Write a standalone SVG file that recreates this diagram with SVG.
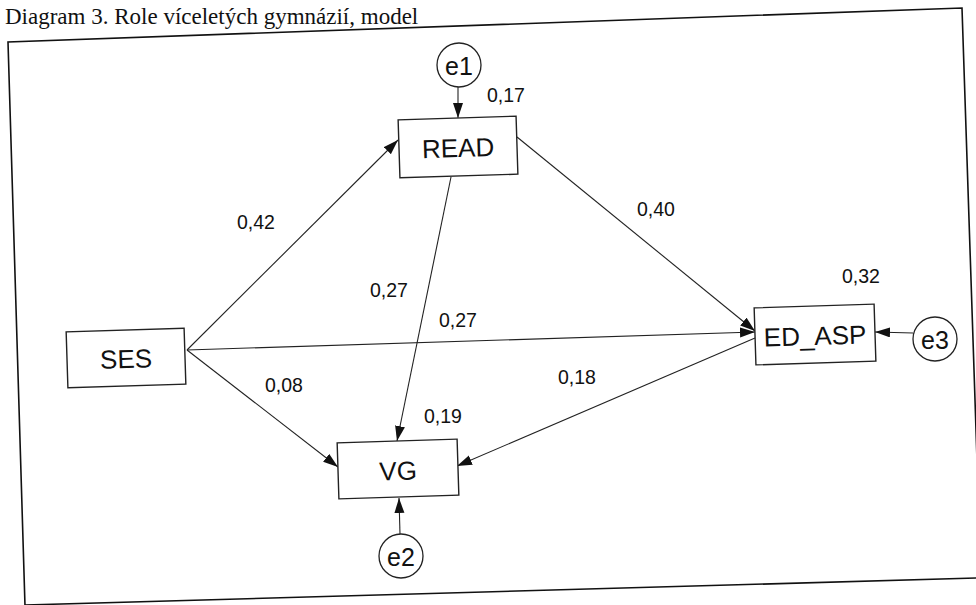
<svg xmlns="http://www.w3.org/2000/svg" width="976" height="605" viewBox="0 0 976 605">
<style>
.box{fill:#fff;stroke:#222;stroke-width:1.4}
.circ{fill:#fff;stroke:#222;stroke-width:1.3}
.lbl{font-family:"Liberation Sans",Arial,sans-serif;font-size:26px;fill:#111;text-anchor:middle;dominant-baseline:central}
.elbl{font-family:"Liberation Sans",Arial,sans-serif;font-size:25px;fill:#111;text-anchor:middle;dominant-baseline:central}
.num{font-family:"Liberation Sans",Arial,sans-serif;font-size:19.5px;fill:#111}
.edge{stroke:#222;stroke-width:1.1;fill:none;marker-end:url(#ah)}
.frame{stroke:#111;stroke-width:1.6;fill:none}
</style>
<defs>
<marker id="ah" markerUnits="userSpaceOnUse" markerWidth="16" markerHeight="12" refX="15" refY="5" orient="auto">
<path d="M0,0 L15,5 L0,10 z" fill="#111"/>
</marker>
</defs>
<rect width="976" height="605" fill="#fff"/>
<text x="5" y="24" style="font-family:'Liberation Serif','Times New Roman',serif;font-size:23px;fill:#111">Diagram 3. Role víceletých gymnázií, model</text>
<g id="frame">
<path class="frame" d="M25,606 L8,42 L962,8 L977,460"/>
<path class="frame" d="M25,605 L977,578"/>
</g>
<g id="connectors">
<line class="edge" x1="458" y1="87" x2="458" y2="118"/>
<line class="edge" x1="187" y1="350" x2="398" y2="140"/>
<line class="edge" x1="517" y1="137" x2="755" y2="331"/>
<line class="edge" x1="187" y1="350" x2="755" y2="332"/>
<line class="edge" x1="451" y1="177" x2="397" y2="441"/>
<line class="edge" x1="187" y1="350" x2="338" y2="467"/>
<line class="edge" x1="755" y1="338" x2="457" y2="466"/>
<line class="edge" x1="913" y1="333" x2="875" y2="332"/>
<line class="edge" x1="400" y1="534" x2="399" y2="498"/>
</g>
<g id="READ" transform="rotate(-1.8 458 147)">
<rect class="box" x="399" y="118" width="118" height="58"/>
<text class="lbl" x="458" y="148">READ</text>
</g>
<g id="SES" transform="rotate(-1.8 126 358)">
<rect class="box" x="67" y="330" width="118" height="56"/>
<text class="lbl" x="126" y="359">SES</text>
</g>
<g id="ED_ASP" transform="rotate(-1.8 815 334)">
<rect class="box" x="755" y="306" width="120" height="57"/>
<text class="lbl" x="815" y="336">ED_ASP</text>
</g>
<g id="VG" transform="rotate(-1.8 398 469)">
<rect class="box" x="338" y="441" width="120" height="56"/>
<text class="lbl" x="398" y="471">VG</text>
</g>
<g id="e1">
<circle class="circ" cx="459" cy="65" r="22"/>
<text class="elbl" x="459" y="66">e1</text>
</g>
<g id="e2">
<circle class="circ" cx="401" cy="556" r="22"/>
<text class="elbl" x="401" y="557">e2</text>
</g>
<g id="e3">
<circle class="circ" cx="935" cy="339" r="22"/>
<text class="elbl" x="935" y="340">e3</text>
</g>
<g id="labels">
<text class="num" x="487" y="102">0,17</text>
<text class="num" x="237" y="229">0,42</text>
<text class="num" x="637" y="216">0,40</text>
<text class="num" x="842" y="283">0,32</text>
<text class="num" x="370" y="297">0,27</text>
<text class="num" x="439" y="327">0,27</text>
<text class="num" x="265" y="392">0,08</text>
<text class="num" x="558" y="384">0,18</text>
<text class="num" x="424" y="423">0,19</text>
</g>
</svg>
